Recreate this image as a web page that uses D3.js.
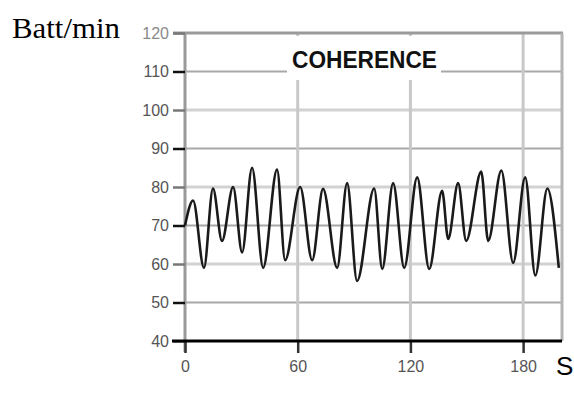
<!DOCTYPE html>
<html>
<head>
<meta charset="utf-8">
<script src="https://cdn.jsdelivr.net/npm/d3@7"></script>
<style>
  html, body { margin: 0; padding: 0; background: #fff; }
  svg { display: block; }
</style>
</head>
<body>
<svg id="chart" width="574" height="394"></svg>
<script>
// Heart-rate trace (beats per minute) over time in seconds
const times = [0, 4.3, 10.1, 14.9, 19.7, 25.6, 30.4, 35.7, 41.6, 49.0, 53.3, 61.3, 67.7, 73.5,
  81.0, 86.3, 91.6, 100.7, 105.0, 110.8, 116.7, 123.6, 130.0, 136.9, 140.1, 145.4, 149.7,
  157.7, 161.4, 168.4, 174.7, 181.1, 186.5, 192.9, 199.0];
const bpm = [70, 76.5, 59, 79.6, 66, 80, 63, 85, 59, 84.5, 61, 80, 61, 79.5,
  59, 81, 55.6, 79.6, 58.7, 81, 59, 82.5, 58.7, 79, 66.5, 81, 66,
  84, 66, 84.3, 60.3, 82.5, 57, 79.6, 59];

const yTicks = [40, 50, 60, 70, 80, 90, 100, 110, 120];
const xTicks = [0, 60, 120, 180];
const xTickLabels = ["0", "60", "120", "180"];
const title = "COHERENCE";
const yUnit = "Batt/min";
const xUnit = "S";

const svg = d3.select("#chart");
const plotLeft = 185, plotRight = 562, plotTop = 33, plotBottom = 341;

const x = d3.scaleLinear().domain([0, 200.7]).range([plotLeft, plotRight]);
const y = d3.scaleLinear().domain([40, 120]).range([plotBottom, plotTop]);

// horizontal grid lines: odd tens darker and thinner, even tens lighter and wider
const gGrid = svg.append("g");
gGrid.selectAll("line.h")
  .data(yTicks.filter(v => v > 40 && v < 120))
  .join("line")
  .attr("x1", plotLeft).attr("x2", plotRight)
  .attr("y1", d => y(d)).attr("y2", d => y(d))
  .attr("stroke", d => (d / 10) % 2 === 1 ? "#a8a8a8" : "#d2d2d2")
  .attr("stroke-width", d => (d / 10) % 2 === 1 ? 2 : 3);

// vertical grid lines
gGrid.selectAll("line.v")
  .data(xTicks.filter(v => v > 0))
  .join("line")
  .attr("x1", d => x(d)).attr("x2", d => x(d))
  .attr("y1", plotTop).attr("y2", plotBottom)
  .attr("stroke", "#c8c8c8")
  .attr("stroke-width", 3);

// frame: top and right borders, left axis line
svg.append("line").attr("x1", 173).attr("x2", plotRight + 1).attr("y1", plotTop).attr("y2", plotTop)
  .attr("stroke", "#9a9a9a").attr("stroke-width", 3);
svg.append("line").attr("x1", plotRight).attr("x2", plotRight).attr("y1", plotTop).attr("y2", plotBottom)
  .attr("stroke", "#b4b4b4").attr("stroke-width", 3);
svg.append("line").attr("x1", plotLeft).attr("x2", plotLeft).attr("y1", plotTop).attr("y2", plotBottom + 11)
  .attr("stroke", "#9a9a9a").attr("stroke-width", 3);

// title on a white band
const titleBox = { x0: 287, x1: 441, y0: 36, y1: 80 };
svg.append("rect")
  .attr("x", titleBox.x0).attr("y", titleBox.y0)
  .attr("width", titleBox.x1 - titleBox.x0).attr("height", titleBox.y1 - titleBox.y0)
  .attr("fill", "#fff");
svg.append("text")
  .attr("x", 292).attr("y", 68)
  .attr("font-family", "Liberation Sans, Arial, sans-serif")
  .attr("font-weight", "bold")
  .attr("font-size", 24)
  .attr("textLength", 145)
  .attr("lengthAdjust", "spacingAndGlyphs")
  .attr("fill", "#111")
  .text(title);

// y axis ticks and labels
const yAxis = d3.axisLeft(y).tickValues(yTicks).tickSize(12).tickPadding(4).tickFormat(d3.format("d"));
const gy = svg.append("g").attr("transform", `translate(${plotLeft},0)`).call(yAxis);
gy.select(".domain").remove();
gy.selectAll(".tick line")
  .attr("stroke", d => (d / 10) % 2 === 1 ? "#111" : "#777")
  .attr("stroke-width", 2.5);
gy.selectAll(".tick text")
  .attr("font-family", "Liberation Sans, Arial, sans-serif")
  .attr("font-size", 16)
  .attr("fill", d => d === 120 ? "#8a8a8a" : "#555");

// x axis: black base line with ticks below
const xAxis = d3.axisBottom(x).tickValues(xTicks).tickSize(12).tickPadding(8)
  .tickFormat((d, i) => xTickLabels[i]);
const gx = svg.append("g").attr("transform", `translate(0,${plotBottom})`).call(xAxis);
gx.select(".domain").remove();
gx.selectAll(".tick line").attr("stroke", "#333").attr("stroke-width", 2.5);
gx.selectAll(".tick text")
  .attr("font-family", "Liberation Sans, Arial, sans-serif")
  .attr("font-size", 16)
  .attr("fill", "#555");
svg.append("line").attr("x1", 172).attr("x2", plotRight).attr("y1", plotBottom).attr("y2", plotBottom)
  .attr("stroke", "#000").attr("stroke-width", 3);

// heart-rate line
const pts = times.map((t, i) => [t, bpm[i]]);
const line = d3.line().x(d => x(d[0])).y(d => y(d[1])).curve(d3.curveMonotoneX);
svg.append("path")
  .datum(pts)
  .attr("d", line)
  .attr("fill", "none")
  .attr("stroke", "#1a1a1a")
  .attr("stroke-width", 2.6)
  .attr("stroke-linejoin", "round");

// unit labels
svg.append("text")
  .attr("x", 12).attr("y", 38)
  .attr("font-family", "Liberation Serif, Times New Roman, serif")
  .attr("font-size", 29)
  .attr("textLength", 108)
  .attr("lengthAdjust", "spacingAndGlyphs")
  .attr("fill", "#000")
  .text(yUnit);
svg.append("text")
  .attr("x", 556).attr("y", 375)
  .attr("font-family", "Liberation Sans, Arial, sans-serif")
  .attr("font-size", 26)
  .attr("fill", "#000")
  .text(xUnit);
</script>
</body>
</html>
